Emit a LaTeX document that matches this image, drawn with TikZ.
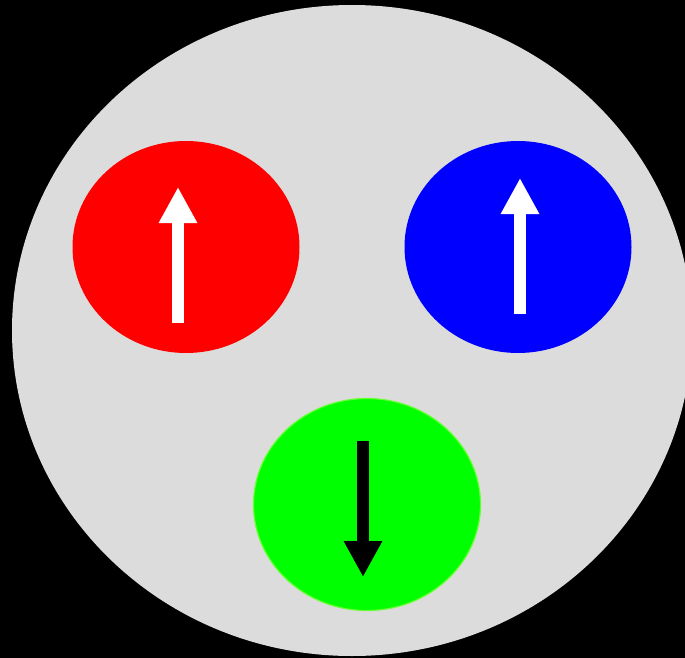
\documentclass[tikz,border=0pt]{standalone}
\usepackage{tikz}
\usetikzlibrary{shapes.geometric,arrows.meta}
\definecolor{atomgrey}{HTML}{DCDCDC}
\definecolor{rimgreen}{HTML}{66FF33}

\begin{document}
\begin{tikzpicture}[x=1pt, y=-1pt,
    spin/.style={ellipse, inner sep=0pt, minimum width=227pt, minimum height=212pt},
    spinarrow/.style={line width=12pt, -{Triangle[width=36pt,length=36pt]}}]
        % Background and frame
        \fill[black] (0,0) rectangle (685,658);
        \useasboundingbox (0,0) rectangle (685,658);

        % The atom
        \node (atom) [ellipse, fill=atomgrey, inner sep=0pt, minimum width=680pt, minimum height=651pt] at (352,330.5) {};

        % The three particles
        \node (left) [spin, fill=red] at (186,247) {};
        \node (right) [spin, fill=blue] at (518,247) {};
        \node (bottom) [spin, fill=green, draw=rimgreen, line width=1.2pt] at (367,504.5) {};

        % Spins
        \coordinate (leftfoot) at (178,323);
        \coordinate (lefttip) at (178,187);
        \coordinate (rightfoot) at (520,314);
        \coordinate (righttip) at (520,178);
        \coordinate (bottomfoot) at (363,441);
        \coordinate (bottomtip) at (363,577);

        \draw[spinarrow, white] (leftfoot) -- (lefttip);
        \draw[spinarrow, white] (rightfoot) -- (righttip);
        \draw[spinarrow, black] (bottomfoot) -- (bottomtip);
      \end{tikzpicture}
\end{document}
